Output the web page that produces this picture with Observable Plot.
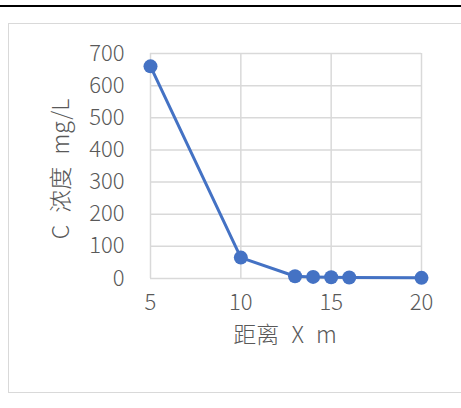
<!DOCTYPE html>
<html>
<head>
<meta charset="utf-8">
<script src="https://cdn.jsdelivr.net/npm/d3@7"></script>
<script src="https://cdn.jsdelivr.net/npm/@observablehq/plot@0.6"></script>
<style>
  html, body { margin: 0; padding: 0; background: #fff; }
  #wrap { position: relative; width: 461px; height: 408px; overflow: hidden; }
  #topline { position: absolute; left: 0; top: 5px; width: 461px; height: 2px; background: #000; }
  #box { position: absolute; left: 8px; top: 23px; width: 470px; height: 370px; border: 1.5px solid #d9d9d9; box-sizing: border-box; }
  #chart { position: absolute; left: 0; top: 0; }
  .axis-title text { word-spacing: 7px; }
</style>
</head>
<body>
<div id="wrap">
  <div id="topline"></div>
  <div id="box"></div>
  <div id="chart"></div>
</div>
<script>
const distance = [5, 10, 13, 14, 15, 16, 20];
const concentration = [660, 65, 7, 5, 4, 3, 2];
const xTicks = [5, 10, 15, 20];
const yTicks = [0, 100, 200, 300, 400, 500, 600, 700];
const xLabel = "距离 X m";
const yLabel = "C 浓度 mg/L";

const data = distance.map((d, i) => ({x: d, y: concentration[i]}));
const font = "'Noto Sans CJK SC', 'Noto Sans', sans-serif";
const textColor = "#595959";
const blue = "#4472C4";

const chart = Plot.plot({
  width: 461,
  height: 408,
  marginLeft: 150,
  marginRight: 40,
  marginTop: 53,
  marginBottom: 130,
  style: {background: "transparent", fontFamily: font, color: textColor, fontWeight: 300},
  x: {domain: [5, 20]},
  y: {domain: [0, 700]},
  marks: [
    Plot.gridX(xTicks, {stroke: "#d9d9d9", strokeOpacity: 1, strokeWidth: 1.5}),
    Plot.gridY(yTicks, {stroke: "#d9d9d9", strokeOpacity: 1, strokeWidth: 1.5}),
    Plot.axisX(xTicks, {tickSize: 0, tickPadding: 16, fontSize: 22, fill: textColor, label: null}),
    Plot.axisY(yTicks, {tickSize: 0, tickPadding: 26, fontSize: 22, fill: textColor, label: null}),
    Plot.line(data, {x: "x", y: "y", stroke: blue, strokeWidth: 3}),
    Plot.dot(data, {x: "x", y: "y", r: 7, fill: blue, stroke: "none"}),
    Plot.text([xLabel], {className: "axis-title", frameAnchor: "bottom", dx: -1, dy: 64, text: d => d, fontSize: 23, fill: textColor, textAnchor: "middle"}),
    Plot.text([yLabel], {className: "axis-title", frameAnchor: "left", dx: -89, dy: 3, rotate: -90, text: d => d, fontSize: 23, fill: textColor, textAnchor: "middle"})
  ]
});
document.getElementById("chart").appendChild(chart);
</script>
</body>
</html>
